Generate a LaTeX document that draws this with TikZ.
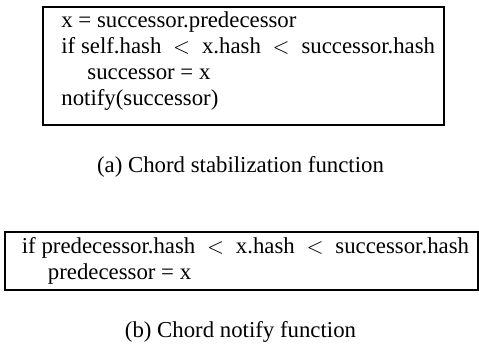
\documentclass[tikz,border=0pt]{standalone}
\usepackage{fontspec}
\setmainfont{Liberation Serif}
\tikzset{
  codeline/.style={anchor=base west, inner sep=0pt, font=\fontsize{11.4pt}{13pt}\selectfont},
  caption/.style={anchor=base, inner sep=0pt, font=\fontsize{11.4pt}{13pt}\selectfont},
  frame/.style={line width=1pt}
}
\newcommand{\hashlt}{$\;<\;$}
\newcommand{\ind}{\hspace*{13pt}}

\begin{document}
\begin{tikzpicture}[x=0.5pt,y=-0.5pt]
\useasboundingbox (0,0) rectangle (479,345);
% (a) stabilization
\draw[frame] (43,7) rectangle (444,125);
\node[codeline] (stab1) at (61,27) {x = successor.predecessor};
\node[codeline] (stab2) at (61,53) {if self.hash \hashlt{} x.hash \hashlt{} successor.hash};
\node[codeline] (stab3) at (61,79) {\ind successor = x};
\node[codeline] (stab4) at (61,105) {notify(successor)};
\node[caption] (capa) at (240.5,172) {(a) Chord stabilization function};
% (b) notify
\draw[frame] (5,232) rectangle (478,290);
\node[codeline] (notify1) at (21.5,253) {if predecessor.hash \hashlt{} x.hash \hashlt{} successor.hash};
\node[codeline] (notify2) at (21.5,279) {\ind predecessor = x};
\node[caption] (capb) at (240.5,337) {(b) Chord notify function};
\end{tikzpicture}
\end{document}
